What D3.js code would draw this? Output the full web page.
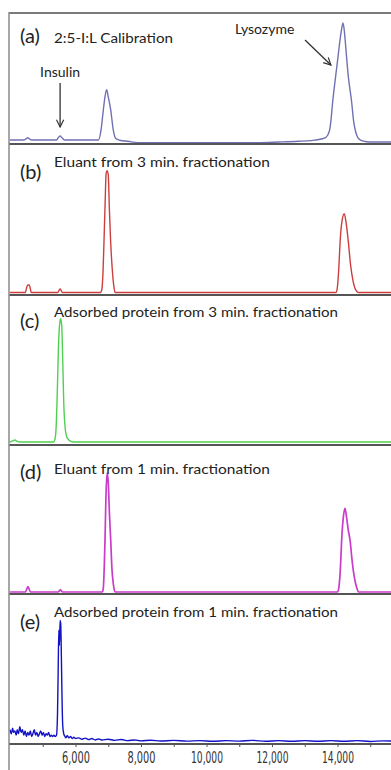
<!DOCTYPE html>
<html>
<head>
<meta charset="utf-8">
<script src="https://cdn.jsdelivr.net/npm/d3@7"></script>
<style>
  body { margin: 0; background: #fff; }
  svg { display: block; }
</style>
</head>
<body>
<svg id="chart" width="391" height="770"></svg>
<script>
// mass axis labels (Da)
const massTicks = [6000, 8000, 10000, 12000, 14000];

const panelLetters = ["(a)", "(b)", "(c)", "(d)", "(e)"];
const panelTitles = [
  "2:5-I:L Calibration",
  "Eluant from 3 min. fractionation",
  "Adsorbed protein from 3 min. fractionation",
  "Eluant from 1 min. fractionation",
  "Adsorbed protein from 1 min. fractionation"
];

// traces: [mass (Da), relative intensity]
const traceA = [
  [4000, 1.7], [4420, 1.7], [4480, 2.5], [4540, 3.6], [4600, 2.5], [4660, 1.7],
  [5420, 1.7], [5470, 3.5], [5530, 5], [5590, 3.5], [5670, 1.7],
  [6700, 1.7], [6779, 10], [6850, 27], [6900, 38], [6952, 44], [7000, 38],
  [7075, 27], [7154, 10], [7230, 3], [7350, 1.5], [7600, 0.6], [7900, -0.5],
  [11600, -0.5], [12200, 0], [12800, 0.6], [13200, 1.2], [13500, 2.5], [13650, 4],
  [13750, 9], [13800, 18], [13850, 33], [13920, 50], [14000, 68], [14060, 82],
  [14120, 94], [14168, 100], [14210, 93], [14260, 77], [14330, 55], [14430, 34],
  [14490, 18], [14560, 8], [14640, 3], [14760, 1], [15000, 0], [16000, 0]
];

const traceB = [
  [4000, 0.4], [4470, 0.4], [4500, 3], [4540, 5.8], [4590, 5.8], [4620, 3], [4650, 0.4],
  [5460, 0.4], [5500, 2], [5530, 2.9], [5560, 2], [5600, 0.4],
  [6760, 0.4], [6800, 2], [6840, 15], [6870, 37], [6905, 65], [6935, 86], [6966, 88],
  [7000, 85], [7035, 60], [7073, 37], [7120, 18], [7170, 5], [7210, 0.4],
  [13950, 0.4], [13990, 3], [14040, 18], [14080, 37], [14140, 52], [14205, 57],
  [14260, 51], [14330, 37], [14400, 20], [14480, 8], [14560, 2], [14640, 0.4], [16000, 0.4]
];

const traceC = [
  [4000, 0.7], [4080, 1.5], [4150, 2.2], [4220, 1.2], [4300, 0.7],
  [5330, 0.7], [5370, 2.5], [5410, 12], [5444, 37], [5480, 70], [5520, 87], [5548, 90],
  [5580, 85], [5610, 60], [5640, 30], [5680, 12], [5740, 4], [5830, 1.5], [5950, 0.7],
  [16000, 0.7]
];

const traceD = [
  [4000, 0], [4470, 0], [4510, 2], [4545, 3.9], [4580, 2.5], [4620, 0],
  [5470, 0], [5510, 1], [5540, 1.5], [5580, 0.5], [5620, 0],
  [6820, 0], [6850, 3], [6880, 20], [6901, 38], [6930, 70], [6966, 87], [7000, 80],
  [7040, 55], [7075, 38], [7110, 18], [7160, 5], [7206, 0],
  [14000, 0], [14040, 3], [14090, 18], [14127, 38], [14180, 55], [14229, 61], [14280, 54],
  [14330, 45], [14382, 38], [14450, 22], [14520, 10], [14590, 3], [14640, 0], [16000, 0]
];

const traceE = [
  [4000, 9], [4040, 6], [4080, 10], [4110, 7], [4150, 8], [4190, 5], [4220, 9], [4260, 6],
  [4300, 11], [4340, 7], [4380, 9], [4420, 5], [4460, 8], [4500, 4], [4540, 7], [4580, 5],
  [4620, 8], [4660, 4], [4700, 6], [4740, 9], [4780, 5], [4820, 7], [4860, 4], [4900, 6],
  [4940, 8], [4980, 5], [5020, 7], [5060, 4], [5100, 6], [5140, 5], [5180, 7], [5220, 4],
  [5260, 5], [5300, 4], [5340, 5], [5380, 4], [5420, 5],
  [5450, 20], [5470, 50], [5490, 81], [5510, 70], [5530, 88], [5548, 86], [5570, 60],
  [5590, 30], [5610, 12], [5640, 6], [5680, 4],
  [5700, 3], [5750, 4.5], [5800, 3], [5850, 4], [5900, 2.5], [5950, 3.5], [6000, 2.5],
  [6100, 3], [6200, 2], [6300, 2.8], [6400, 1.8], [6500, 2.5], [6600, 1.5], [6700, 2.2],
  [6800, 1.5], [7000, 2], [7200, 1.2], [7400, 1.8], [7600, 1], [7800, 1.5], [8000, 0.8],
  [8300, 1.3], [8600, 0.7], [9000, 1.2], [9400, 0.6], [9800, 1], [10200, 0.5], [10600, 1],
  [11000, 0.6], [11400, 1.2], [11800, 0.5], [12200, 1], [12600, 0.5], [13000, 1],
  [13400, 0.5], [13800, 1], [14200, 0.5], [14600, 1], [15000, 0.4], [15400, 0.8], [16000, 0.5]
];

const traces = [traceA, traceB, traceC, traceD, traceE];
const colors = ["#7070b4", "#cc3f3f", "#50d050", "#c93cc9", "#1212c6"];

// layout of the stacked panels
const panelBox = [
  { top: 13, bottom: 144, letterY: 30, titleY: 30, titleW: 119 },
  { top: 144, bottom: 295, letterY: 35, titleY: 23, titleW: 216 },
  { top: 295, bottom: 445, letterY: 33, titleY: 22, titleW: 284 },
  { top: 445, bottom: 594, letterY: 34, titleY: 29, titleW: 216 },
  { top: 594, bottom: 744, letterY: 35, titleY: 23, titleW: 284 }
];

const W = 391, H = 770;
const left = 9;
const svg = d3.select("#chart");

const x = d3.scaleLinear([4000, 16000], [10, 10 + 12000 * 0.03275]);

const textFont = "Lato, 'Open Sans', sans-serif";
const ink = "#222";

panelBox.forEach((p, i) => {
  const y = d3.scaleLinear([0, 100], [p.bottom - 2, p.top + 10]);
  const g = svg.append("g");

  g.append("clipPath").attr("id", "clip" + i)
    .append("rect")
    .attr("x", left).attr("y", p.top)
    .attr("width", W - left).attr("height", p.bottom - p.top);

  const line = d3.line()
    .x(d => x(d[0]))
    .y(d => y(d[1]))
    .curve(d3.curveMonotoneX);

  g.append("path")
    .datum(traces[i])
    .attr("clip-path", `url(#clip${i})`)
    .attr("fill", "none")
    .attr("stroke", colors[i])
    .attr("stroke-width", i === 3 ? 1.7 : 1.4)
    .attr("stroke-linejoin", "round")
    .attr("d", line);

  g.append("text")
    .attr("x", 20).attr("y", p.top + p.letterY)
    .attr("font-family", textFont)
    .attr("font-size", 20)
    .attr("fill", ink)
    .text(panelLetters[i]);

  g.append("text")
    .attr("x", 54).attr("y", p.top + p.titleY)
    .attr("font-family", textFont)
    .attr("font-size", 13.5)
    .attr("fill", ink)
    .attr("textLength", p.titleW)
    .attr("lengthAdjust", "spacingAndGlyphs")
    .text(panelTitles[i]);

  // panel baseline / x axis line
  svg.append("line")
    .attr("x1", left).attr("x2", W)
    .attr("y1", p.bottom).attr("y2", p.bottom)
    .attr("stroke", "#555").attr("stroke-width", 2);
});

// outer frame: top and left
svg.append("line")
  .attr("x1", left).attr("x2", W).attr("y1", 13).attr("y2", 13)
  .attr("stroke", "#7a7a7a").attr("stroke-width", 2);
svg.append("line")
  .attr("x1", left).attr("x2", left).attr("y1", 12).attr("y2", H)
  .attr("stroke", "#8a8a8a").attr("stroke-width", 1.5);

// annotations in panel (a)
const defs = svg.append("defs");
defs.append("marker")
  .attr("id", "arrow")
  .attr("viewBox", "0 0 10 10")
  .attr("refX", 9).attr("refY", 5)
  .attr("markerWidth", 7).attr("markerHeight", 7)
  .attr("orient", "auto")
  .append("path")
  .attr("d", "M1,1 L9,5 L1,9")
  .attr("fill", "none")
  .attr("stroke", "#333")
  .attr("stroke-width", 1.3);

svg.append("text")
  .attr("x", x(5530)).attr("y", 77)
  .attr("text-anchor", "middle")
  .attr("font-family", textFont)
  .attr("font-size", 14)
  .attr("fill", ink)
  .text("Insulin");
svg.append("line")
  .attr("x1", x(5530)).attr("x2", x(5530))
  .attr("y1", 83).attr("y2", 127)
  .attr("stroke", "#333").attr("stroke-width", 1.3)
  .attr("marker-end", "url(#arrow)");

svg.append("text")
  .attr("x", 235).attr("y", 34)
  .attr("font-family", textFont)
  .attr("font-size", 14)
  .attr("fill", ink)
  .text("Lysozyme");
svg.append("line")
  .attr("x1", 305).attr("y1", 40)
  .attr("x2", x(13800)).attr("y2", 65)
  .attr("stroke", "#333").attr("stroke-width", 1.3)
  .attr("marker-end", "url(#arrow)");

// mass axis under panel (e)
const axis = d3.axisBottom(x)
  .tickValues(x.ticks(12).filter(d => d > 4000))
  .tickSize(3)
  .tickPadding(5)
  .tickFormat(d => massTicks.includes(d) ? d3.format(",")(d) : "");

const ax = svg.append("g")
  .attr("transform", `translate(0,${panelBox[4].bottom})`)
  .call(axis);
ax.select(".domain").remove();
ax.selectAll(".tick line").attr("stroke", "#555");
ax.selectAll(".tick text")
  .filter(d => massTicks.includes(d))
  .style("font-family", "'Liberation Sans Narrow', 'DejaVu Sans Condensed', sans-serif")
  .style("font-size", "16px")
  .attr("fill", "#333")
  .attr("textLength", d => d >= 10000 ? 32 : 28)
  .attr("lengthAdjust", "spacingAndGlyphs");
</script>
</body>
</html>
